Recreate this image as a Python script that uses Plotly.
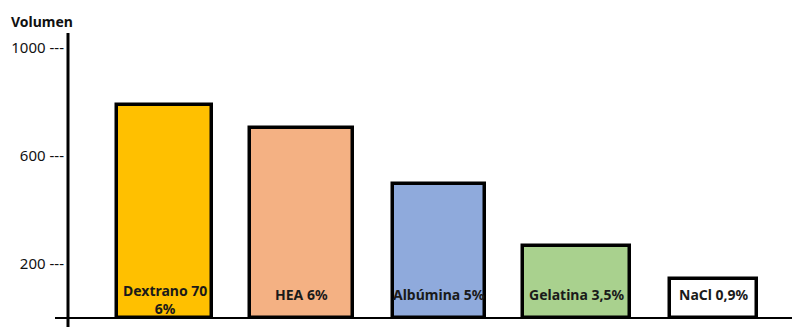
import plotly.graph_objects as go

categories = ["Dextrano 70<br>6%", "HEA 6%", "Albúmina 5%", "Gelatina 3,5%", "NaCl 0,9%"]
volumes = [790, 702, 495, 265, 145]
colors = ["#FFC000", "#F4B183", "#8FAADC", "#A9D18E", "#FFFFFF"]
bar_widths = [0.685, 0.75, 0.67, 0.78, 0.64]
tick_values = [200, 600, 1000]
tick_labels = ["200 ---", "600 ---", "1000 ---"]
y_title = "Volumen"

xs = list(range(len(categories)))

fig = go.Figure()
fig.add_trace(go.Bar(
    x=xs, y=volumes, width=bar_widths,
    marker=dict(color=colors, line=dict(color="#000000", width=3.5)),
    hoverinfo="skip", showlegend=False,
))

W, H = 792, 327
ml, mr, mt, mb = 68, 0, 33, 9
plot_h = H - mt - mb
px_per_unit = 0.27
ymax = plot_h / px_per_unit
px_per_cat = 137.25
x0 = -(164.5 - ml) / px_per_cat
x1 = x0 + (W - ml - mr) / px_per_cat

annotations = []
for i, lab in enumerate(categories):
    multi = "<br>" in lab
    annotations.append(dict(
        x=i, y=0, xref="x", yref="y", text=lab, showarrow=False,
        yanchor="bottom", yshift=-2 if multi else 12,
        font=dict(family="Noto Sans", size=14, color="#1a1a1a", weight="bold"),
    ))
annotations.append(dict(
    xref="paper", yref="paper", x=(42 - ml) / (W - ml - mr), y=1 + 12 / plot_h,
    text=y_title, showarrow=False, xanchor="center", yanchor="middle",
    font=dict(family="Noto Sans", size=14, color="#111111", weight="bold"),
))

fig.update_layout(
    width=W, height=H,
    margin=dict(l=ml, r=mr, t=mt, b=mb, pad=0),
    paper_bgcolor="white", plot_bgcolor="white",
    bargap=0,
    xaxis=dict(range=[x0, x1], showgrid=False, zeroline=False, showline=False,
               showticklabels=False, ticks=""),
    yaxis=dict(range=[0, ymax], showgrid=False, zeroline=False, showline=False,
               tickvals=tick_values, ticktext=tick_labels, ticks="",
               tickfont=dict(family="Noto Sans", size=15, color="#111111"),
               ticklabelstandoff=3),
    annotations=annotations,
    shapes=[
        dict(type="line", xref="paper", yref="paper", x0=0, x1=0,
             y0=-(9) / plot_h, y1=1, line=dict(color="#000000", width=3)),
        dict(type="line", xref="paper", yref="paper", x0=-(13) / (W - ml), x1=1,
             y0=0, y1=0, line=dict(color="#000000", width=2)),
    ],
)

fig.write_html("out.html")
